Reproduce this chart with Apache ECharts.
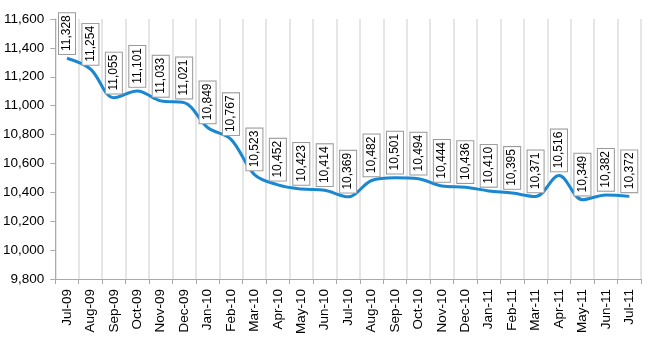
<!DOCTYPE html>
<html><head><meta charset="utf-8">
<script src="https://cdn.jsdelivr.net/npm/echarts@6/dist/echarts.min.js"></script>
<style>html,body{margin:0;padding:0;background:#fff}#c{width:650px;height:350px}</style>
</head><body><div id="c"></div>
<script>
const categories = ["Jul-09","Aug-09","Sep-09","Oct-09","Nov-09","Dec-09","Jan-10","Feb-10","Mar-10","Apr-10","May-10","Jun-10","Jul-10","Aug-10","Sep-10","Oct-10","Nov-10","Dec-10","Jan-11","Feb-11","Mar-11","Apr-11","May-11","Jun-11","Jul-11"];
const values = [11328,11254,11055,11101,11033,11021,10849,10767,10523,10452,10423,10414,10369,10482,10501,10494,10444,10436,10410,10395,10371,10516,10349,10382,10372];
const yMin = 9800, yMax = 11600, yStep = 200;

const chart = echarts.init(document.getElementById('c'));
chart.setOption({
  animation: false,
  grid: {left: 55, right: 9, top: 19, bottom: 71},
  xAxis: {
    type: 'category', data: categories, boundaryGap: true,
    axisLine: {lineStyle: {color: '#aaaaaa', width: 1}},
    axisTick: {show: true, alignWithLabel: false, length: 5, lineStyle: {color: '#aaaaaa'}},
    axisLabel: {rotate: 90, color: '#000', fontFamily: 'Liberation Sans, Arial', fontSize: 13.5, margin: 10, interval: 0},
    splitLine: {show: true, lineStyle: {color: '#e6e6e6', width: 2}}
  },
  yAxis: {
    type: 'value', min: yMin, max: yMax, interval: yStep,
    axisLine: {show: true, lineStyle: {color: '#aaaaaa'}},
    axisTick: {show: true, length: 5, lineStyle: {color: '#aaaaaa'}},
    axisLabel: {color: '#000', fontFamily: 'Liberation Sans, Arial', fontSize: 13.5, margin: 11,
      formatter: v => v.toLocaleString('en-US')},
    splitLine: {show: false}
  },
  series: [{
    type: 'line', data: values, smooth: 0.35, showSymbol: true, symbol: 'circle', symbolSize: 0.5,
    itemStyle: {color: '#1a88d0'},
    lineStyle: {color: '#1a88d0', width: 3},
    labelLayout: {hideOverlap: false},
    label: {
      show: true, position: 'top', rotate: 90, distance: 4, align: 'left', verticalAlign: 'middle',
      formatter: p => p.value.toLocaleString('en-US'),
      color: '#000', fontFamily: 'Liberation Sans, Arial', fontSize: 12, opacity: 1,
      backgroundColor: '#fff', borderColor: '#999', borderWidth: 1, padding: [3, 2, 1, 3]
    }
  }]
});
</script></body></html>
